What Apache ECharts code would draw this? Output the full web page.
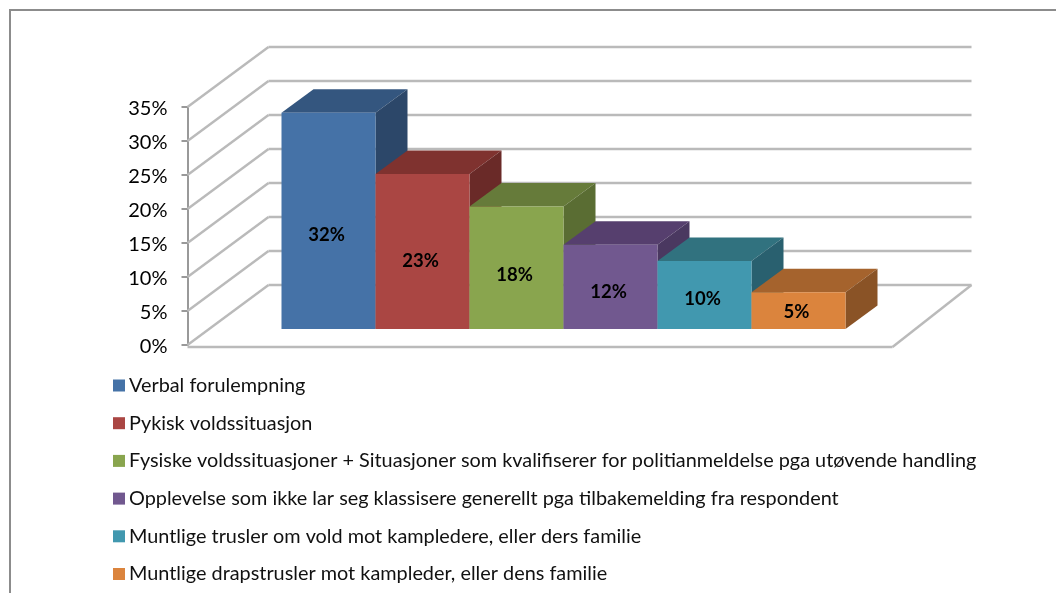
<!DOCTYPE html>
<html><head><meta charset="utf-8">
<style>html,body{margin:0;padding:0;background:#fff}#c{width:1056px;height:593px}</style>
<script src="https://cdn.jsdelivr.net/npm/echarts@6/dist/echarts.min.js"></script>
</head><body><div id="c"></div>
<script>
const categories = ['Verbal forulempning','Pykisk voldssituasjon','Fysiske voldssituasjoner + Situasjoner som kvalifiserer for politianmeldelse pga utøvende handling','Opplevelse som ikke lar seg klassisere generellt pga tilbakemelding fra respondent','Muntlige trusler om vold mot kampledere, eller ders familie','Muntlige drapstrusler mot kampleder, eller dens familie'];
const values = [31.8,22.8,18,12.4,10,5.4];
const yTicks = [0,5,10,15,20,25,30,35];
const faceColors = ['#4572A7','#AA4643','#89A54E','#71588F','#4198AF','#DB843D'];
const topColors = ['#34567F','#7F322F','#667B3A','#563F6E','#31727F','#A5632D'];
const sideColors = ['#2C4769','#6A2A28','#5A6D33','#4A3860','#29606F','#8A5326'];

const WALL_DX = 81, WALL_DY = -60, BAR_DX = 32, BAR_DY = -23.5, PLANE_DY = -16;
const GRID = '#BABABA';
const BAND = 94;

function wall(params, api){
  const v = api.value(0);
  const p = api.coord([0, v]);
  const r = api.coord([7.5, v]);
  const x0=p[0], y0=p[1], bx=x0+WALL_DX, by=y0+WALL_DY, ex=r[0]+WALL_DX-2;
  const ls = {stroke:GRID, lineWidth:2.4, fill:null};
  const kids = [
    {type:'line', shape:{x1:x0,y1:y0,x2:bx,y2:by}, style:ls},
    {type:'line', shape:{x1:bx,y1:by,x2:ex,y2:by}, style:ls}
  ];
  if (v===0){
    kids.push({type:'line', shape:{x1:x0,y1:y0+2,x2:r[0],y2:y0+2}, style:ls});
    kids.push({type:'line', shape:{x1:r[0],y1:y0+2,x2:ex,y2:by}, style:ls});
  }
  return {type:'group', children:kids};
}

function bar(idx){
  return function(params, api){
    const x = api.value(0), v = api.value(1);
    const a = api.coord([x, v]), b = api.coord([x+1, 0]);
    const l=a[0], r=b[0], t=a[1]+PLANE_DY, bt=b[1]+PLANE_DY;
    const h = bt-t;
    return {type:'group', children:[
      {type:'polygon', shape:{points:[[l,t],[l+BAR_DX,t+BAR_DY],[r+BAR_DX,t+BAR_DY],[r,t]]}, style:{fill:topColors[idx]}},
      {type:'polygon', shape:{points:[[r,t],[r+BAR_DX,t+BAR_DY],[r+BAR_DX,bt+BAR_DY],[r,bt]]}, style:{fill:sideColors[idx]}},
      {type:'rect', shape:{x:l,y:t,width:r-l,height:h}, style:{fill:faceColors[idx]}},
      {type:'text', x:(l+r)/2-2, y:(t+bt)/2-1+0.07*h, style:{text:Math.round(v)+'%', fill:'#000', font:'bold 18.5px Lato', align:'center', verticalAlign:'middle'}}
    ]};
  };
}

const series = [{
  type:'custom', name:'walls', silent:true, clip:false, z:1,
  data: yTicks.map(v=>[v]), encode:{y:0}, renderItem:wall
}];
categories.forEach((name,i)=>{
  series.push({type:'custom', name, clip:false, z:2+i, silent:true,
    itemStyle:{color:faceColors[i]},
    data:[[i+1, values[i]]], encode:{x:0,y:1}, renderItem:bar(i)});
});

const chart = echarts.init(document.getElementById('c'), null, {renderer:'canvas'});
chart.setOption({
  animation:false,
  backgroundColor:'#fff',
  grid:{left:187.5, top:107, width:BAND*7.5, height:238},
  xAxis:{type:'value', min:0, max:7.5, show:false},
  yAxis:{type:'value', min:0, max:35, interval:5, splitLine:{show:false},
    axisLine:{show:true, lineStyle:{color:'#999', width:2}},
    axisTick:{show:true, length:6, lineStyle:{color:'#999', width:2}},
    axisLabel:{formatter:'{a|{value}%}', margin:20,
      rich:{a:{color:'#000', fontFamily:'Lato', fontSize:20, lineHeight:20, padding:[4,0,0,0]}}}},
  legend:{orient:'vertical', left:113, top:375.5, itemWidth:12, itemHeight:12, itemGap:17.7,
    icon:'rect', selectedMode:false, data:categories, align:'left',
    textStyle:{color:'#111', fontFamily:'Lato', fontSize:19.85, padding:[0,0,0,-1], height:20, lineHeight:20}, padding:0},
  graphic:[{type:'polyline', silent:true, shape:{points:[[10,600],[10,10],[1056,10]]}, style:{stroke:'#8c8c8c', lineWidth:2, fill:null}}],
  series
});
</script></body></html>
